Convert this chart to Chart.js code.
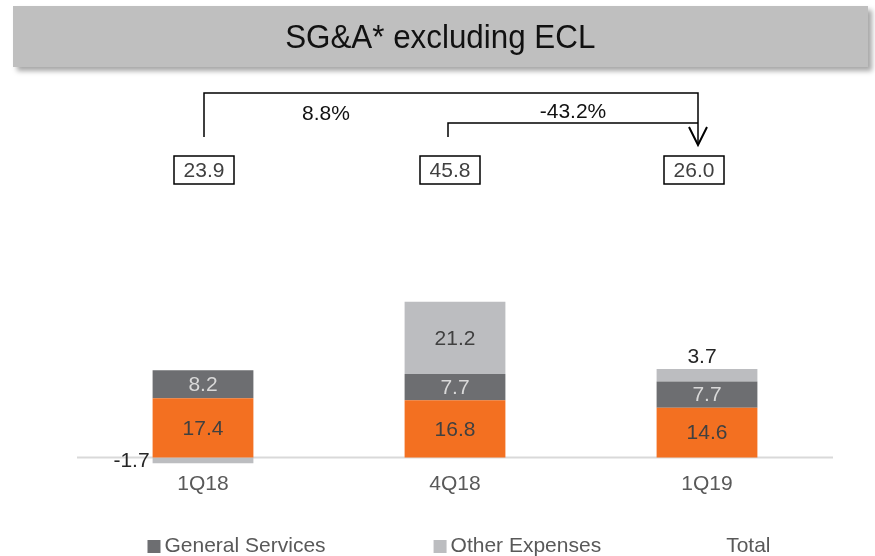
<!DOCTYPE html>
<html>
<head>
<meta charset="utf-8">
<script src="https://cdn.jsdelivr.net/npm/chart.js@4"></script>
<style>
    body { margin: 0; background: #fff; }
    #wrap { position: relative; width: 875px; height: 556px; }
    #banner {
        position: absolute; left: 13px; top: 6px; width: 855px; height: 61px;
        background: #bfbfbf; box-shadow: 4px 4px 5px rgba(0, 0, 0, 0.35);
        font-family: "Liberation Sans", Arial, sans-serif; color: #111;
        display: flex; align-items: center; justify-content: center;
    }
    #banner span { font-size: 33px; display: inline-block; transform: scaleX(0.95); }
</style>
</head>
<body>
<div id="wrap">
    <canvas id="histogramme" width="875" height="556"></canvas>
    <div id="banner"><span>SG&amp;A* excluding ECL</span></div>
</div>
<script>
// valeurs
const categories = ['1Q18', '4Q18', '1Q19'];
const personnelExpenses = [17.4, 16.8, 14.6];
const generalServices = [8.2, 7.7, 7.7];
const otherExpenses = [-1.7, 21.2, 3.7];
const totals = [23.9, 45.8, 26.0];
const changeLabels = ['8.8%', '-43.2%'];

const FONT = '"Liberation Sans", Arial, sans-serif';
const labelColors = ['#404040', '#d9d9d9', '#404040'];

// ligne du zéro
const zeroLine = {
    id: 'zeroLine',
    beforeDatasetsDraw: chart => {
        const ctx = chart.ctx;
        const y0 = chart.scales.y.getPixelForValue(0);
        ctx.save();
        ctx.strokeStyle = '#d9d9d9';
        ctx.lineWidth = 2;
        ctx.beginPath();
        ctx.moveTo(chart.chartArea.left, y0);
        ctx.lineTo(chart.chartArea.right, y0);
        ctx.stroke();
        ctx.restore();
    }
};

// étiquettes des segments
const segmentLabels = {
    id: 'segmentLabels',
    afterDatasetsDraw: chart => {
        const ctx = chart.ctx;
        ctx.save();
        ctx.font = '21px ' + FONT;
        ctx.textBaseline = 'middle';
        [0, 1, 2].forEach(d => {
            const meta = chart.getDatasetMeta(d);
            meta.data.forEach((bar, i) => {
                const v = chart.data.datasets[d].data[i];
                const top = Math.min(bar.y, bar.base);
                const h = Math.abs(bar.base - bar.y);
                const txt = v.toFixed(1);
                if (v < 0) {
                    ctx.fillStyle = '#262626';
                    ctx.textAlign = 'right';
                    ctx.fillText(txt, bar.x - bar.width / 2 - 3, top + h / 2 + 1);
                } else if (h < 20) {
                    ctx.fillStyle = '#262626';
                    ctx.textAlign = 'center';
                    ctx.fillText(txt, bar.x - 5, top - 12);
                } else {
                    ctx.fillStyle = labelColors[d];
                    ctx.textAlign = 'center';
                    ctx.fillText(txt, bar.x, top + h / 2 + 1);
                }
            });
        });
        ctx.restore();
    }
};

// totaux encadrés + flèches de variation + légende
const annotations = {
    id: 'annotations',
    afterDraw: chart => {
        const ctx = chart.ctx;
        const xs = chart.scales.x;
        const boxOffsets = [1, -5, -13];
        ctx.save();
        ctx.font = '21px ' + FONT;
        ctx.textAlign = 'center';
        ctx.textBaseline = 'middle';

        totals.forEach((t, i) => {
            const cx = xs.getPixelForValue(i) + boxOffsets[i];
            ctx.strokeStyle = '#000';
            ctx.lineWidth = 1.5;
            ctx.strokeRect(cx - 30, 156, 60, 28);
            ctx.fillStyle = '#404040';
            ctx.fillText(t.toFixed(1), cx, 171);
        });

        const a = xs.getPixelForValue(0) + 1;
        const b = xs.getPixelForValue(1) - 7;
        const c = xs.getPixelForValue(2) - 9;
        ctx.strokeStyle = '#000';
        ctx.lineWidth = 1.5;
        ctx.beginPath();
        ctx.moveTo(a, 137); ctx.lineTo(a, 93); ctx.lineTo(c, 93); ctx.lineTo(c, 145);
        ctx.moveTo(b, 137); ctx.lineTo(b, 123); ctx.lineTo(c, 123);
        ctx.stroke();
        ctx.lineWidth = 2;
        ctx.beginPath();
        ctx.moveTo(c - 9, 127); ctx.lineTo(c, 145); ctx.lineTo(c + 9, 127);
        ctx.stroke();
        ctx.fillStyle = '#111';
        ctx.fillText(changeLabels[0], (a + b) / 2, 114);
        ctx.fillText(changeLabels[1], (b + c) / 2, 112);

        // légende
        const items = chart.data.datasets.filter(ds => ds.inLegend);
        const gap = 108;
        const widths = items.map(ds => 17 + ctx.measureText(ds.label).width);
        const total = widths.reduce((s, w) => s + w, 0) + gap * (items.length - 1);
        let x = (chart.chartArea.left + chart.chartArea.right) / 2 - total / 2 + 4;
        ctx.textAlign = 'left';
        items.forEach((ds, i) => {
            if (ds.type !== 'line') {
                ctx.fillStyle = ds.backgroundColor;
                ctx.fillRect(x, 540, 13, 13);
            }
            ctx.fillStyle = '#595959';
            ctx.fillText(ds.label, x + 17, 546);
            x += widths[i] + gap;
        });
        ctx.restore();
    }
};

const ctx = document.getElementById('histogramme');
const myChart = new Chart(ctx, {
    type: 'bar',
    data: {
        labels: categories,
        datasets: [
            { label: 'Personnel Expenses', data: personnelExpenses, backgroundColor: '#f37021', inLegend: false },
            { label: 'General Services', data: generalServices, backgroundColor: '#6d6e71', inLegend: true },
            { label: 'Other Expenses', data: otherExpenses, backgroundColor: '#bcbdc0', inLegend: true },
            { label: 'Total', type: 'line', data: totals, showLine: false, pointRadius: 0, pointHoverRadius: 0, inLegend: true }
        ]
    },
    options: {
        responsive: false,
        maintainAspectRatio: false,
        animation: false,
        barPercentage: 0.4,
        categoryPercentage: 1,
        layout: { padding: { top: 253, bottom: 55, left: 77, right: 42 } },
        plugins: {
            legend: { display: false },
            tooltip: { enabled: false }
        },
        scales: {
            x: {
                stacked: true,
                grid: { display: false, drawTicks: false },
                border: { display: false },
                ticks: { color: '#595959', font: { family: FONT, size: 21 }, padding: 4 }
            },
            y: {
                stacked: true,
                min: -3,
                max: 60,
                ticks: { display: false },
                border: { display: false },
                grid: { display: false, drawTicks: false }
            }
        }
    },
    plugins: [zeroLine, segmentLabels, annotations]
});
</script>
</body>
</html>
